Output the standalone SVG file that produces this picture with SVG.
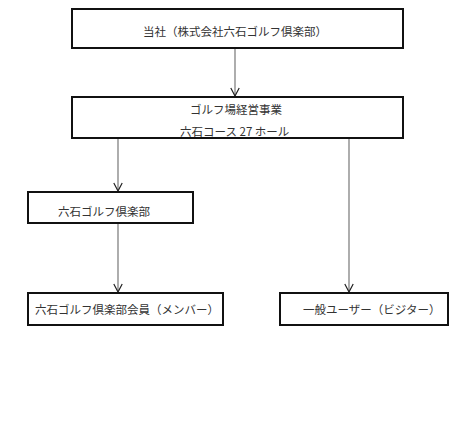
<svg xmlns="http://www.w3.org/2000/svg" width="472" height="437" viewBox="0 0 472 437">
<defs>
<style>
.box{fill:#fff;stroke:#111;stroke-width:2}
.t{font-family:"Noto Sans CJK JP","Noto Sans CJK SC",sans-serif;font-size:11.5px;fill:#333}
.c{stroke:#777;stroke-width:1.2;fill:none}
</style>
<marker id="ah" markerWidth="10" markerHeight="10" refX="9" refY="5" orient="auto" markerUnits="userSpaceOnUse" viewBox="0 0 10 10">
<path d="M1,0.8 L9,5 L1,9.2" fill="none" stroke="#222" stroke-width="1.2"/>
</marker>
</defs>
<rect width="472" height="437" fill="#fff"/>
<g id="connectors">
<line class="c" x1="235" y1="48" x2="235" y2="96" marker-end="url(#ah)"/>
<line class="c" x1="118" y1="138" x2="118" y2="191" marker-end="url(#ah)"/>
<line class="c" x1="349" y1="138" x2="349" y2="292" marker-end="url(#ah)"/>
<line class="c" x1="118" y1="223" x2="118" y2="292" marker-end="url(#ah)"/>
</g>
<g id="node1">
<rect class="box" x="72" y="9" width="331" height="39"/>
<text class="t" x="143" y="36">当社（株式会社六石ゴルフ倶楽部）</text>
</g>
<g id="node2">
<rect class="box" x="72" y="97" width="331" height="41"/>
<text class="t" x="190" y="114">ゴルフ場経営事業</text>
<text class="t" x="180" y="136">六石コース 27 ホール</text>
</g>
<g id="node3">
<rect class="box" x="28" y="192" width="165" height="31"/>
<text class="t" x="58" y="216">六石ゴルフ倶楽部</text>
</g>
<g id="node4">
<rect class="box" x="28" y="293" width="195" height="32"/>
<text class="t" x="35" y="314">六石ゴルフ倶楽部会員（メンバー）</text>
</g>
<g id="node5">
<rect class="box" x="280" y="293" width="168" height="32"/>
<text class="t" x="303" y="314">一般ユーザー（ビジター）</text>
</g>
</svg>
